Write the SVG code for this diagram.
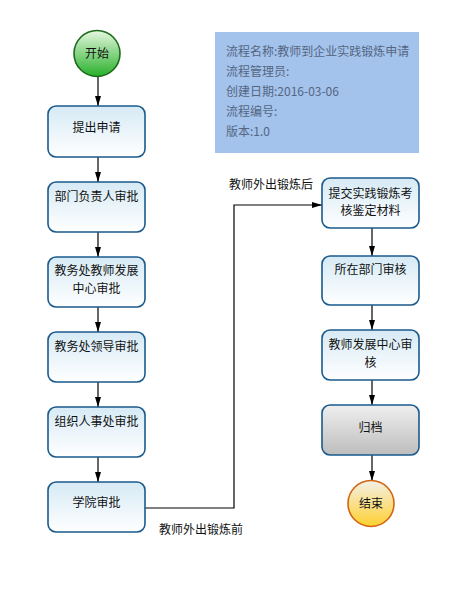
<svg xmlns="http://www.w3.org/2000/svg" width="452" height="589" viewBox="0 0 452 589">
<style>
text{font-family:"Noto Sans CJK SC","Liberation Sans",sans-serif;font-size:12px;fill:#111;text-anchor:middle}
.box{stroke:#1b5a8c;stroke-width:1.6;fill:url(#gb)}
.grey{stroke:#1b5a8c;stroke-width:1.6;fill:url(#gg)}
.line{stroke:#000;stroke-width:1.2;fill:none}
.info{font-size:12px;fill:#556680;text-anchor:start}
.lbl{text-anchor:start}
</style>
<defs>
<linearGradient id="gb" x1="0" y1="0" x2="0" y2="1"><stop offset="0" stop-color="#d6eaf5"/><stop offset="1" stop-color="#ffffff"/></linearGradient>
<linearGradient id="gg" x1="0" y1="0" x2="0" y2="1"><stop offset="0" stop-color="#efefef"/><stop offset="1" stop-color="#bdbdbd"/></linearGradient>
<linearGradient id="gs" x1="0" y1="0" x2="0" y2="1"><stop offset="0" stop-color="#e6f8e0"/><stop offset="1" stop-color="#28b02a"/></linearGradient>
<linearGradient id="ge" x1="0" y1="0" x2="0" y2="1"><stop offset="0" stop-color="#f3f0e8"/><stop offset="1" stop-color="#ffd030"/></linearGradient>
<marker id="arr" viewBox="0 0 10 6" refX="10" refY="3" markerWidth="10" markerHeight="6" markerUnits="userSpaceOnUse" orient="auto"><path d="M0,0 L10,3 L0,6 z" fill="#000"/></marker>
</defs>
<rect x="215" y="32" width="204" height="121" fill="#a3c2ec"/>
<text class="info" x="226" y="56">流程名称:教师到企业实践锻炼申请</text>
<text class="info" x="226" y="76">流程管理员:</text>
<text class="info" x="226" y="96">创建日期:2016-03-06</text>
<text class="info" x="226" y="116">流程编号:</text>
<text class="info" x="226" y="136">版本:1.0</text>
<g id="connectors">
<path class="line" marker-end="url(#arr)" d="M98,77 V106"/>
<path class="line" marker-end="url(#arr)" d="M98,157 V182"/>
<path class="line" marker-end="url(#arr)" d="M98,232 V257"/>
<path class="line" marker-end="url(#arr)" d="M98,307 V332"/>
<path class="line" marker-end="url(#arr)" d="M98,382 V407"/>
<path class="line" marker-end="url(#arr)" d="M98,457 V482"/>
<path class="line" marker-end="url(#arr)" d="M145,508 H234 V205 H322"/>
<path class="line" marker-end="url(#arr)" d="M372,228 V256"/>
<path class="line" marker-end="url(#arr)" d="M372,305 V330"/>
<path class="line" marker-end="url(#arr)" d="M372,380 V405"/>
<path class="line" marker-end="url(#arr)" d="M372,455 V481"/>
<text class="lbl" x="229" y="189">教师外出锻炼后</text>
<text class="lbl" x="159" y="534">教师外出锻炼前</text>
</g>
<g id="start"><circle cx="97" cy="53.5" r="23" fill="url(#gs)" stroke="#1d6a1d" stroke-width="1.6"/><text x="97" y="58">开始</text></g>
<g id="n1"><rect class="box" x="48" y="106" width="97" height="51" rx="8"/><text x="96.5" y="132">提出申请</text></g>
<g id="n2"><rect class="box" x="48" y="182" width="97" height="50" rx="8"/><text x="96.5" y="201">部门负责人审批</text></g>
<g id="n3"><rect class="box" x="48" y="257" width="97" height="50" rx="8"/><text x="96.5" y="275">教务处教师发展<tspan x="96.5" dy="17.5">中心审批</tspan></text></g>
<g id="n4"><rect class="box" x="48" y="332" width="97" height="50" rx="8"/><text x="96.5" y="351">教务处领导审批</text></g>
<g id="n5"><rect class="box" x="48" y="407" width="97" height="50" rx="8"/><text x="96.5" y="426">组织人事处审批</text></g>
<g id="n6"><rect class="box" x="48" y="482" width="97" height="50" rx="8"/><text x="96.5" y="507">学院审批</text></g>
<g id="r1"><rect class="box" x="322" y="178" width="97" height="50" rx="8"/><text x="370.5" y="197.5">提交实践锻炼考<tspan x="370.5" dy="17.5">核鉴定材料</tspan></text></g>
<g id="r2"><rect class="box" x="322" y="256" width="97" height="49" rx="8"/><text x="370.5" y="274">所在部门审核</text></g>
<g id="r3"><rect class="box" x="322" y="330" width="97" height="50" rx="8"/><text x="370.5" y="349">教师发展中心审<tspan x="370.5" dy="17.5">核</tspan></text></g>
<g id="r4"><rect class="grey" x="322" y="405" width="97" height="50" rx="8"/><text x="370.5" y="432">归档</text></g>
<g id="end"><circle cx="371" cy="503.5" r="23" fill="url(#ge)" stroke="#d2660e" stroke-width="1.6"/><text x="371" y="508">结束</text></g>
</svg>
